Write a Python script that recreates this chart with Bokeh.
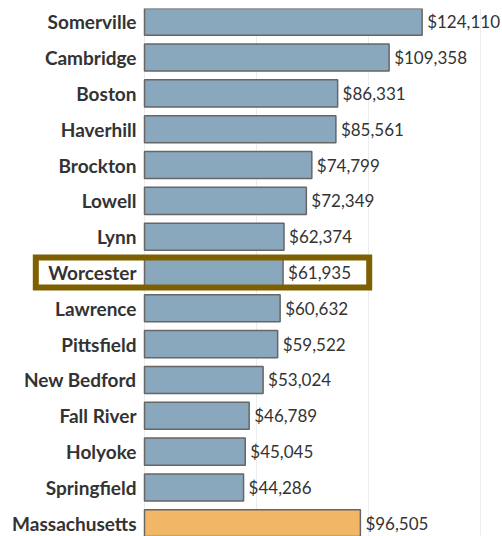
from bokeh.plotting import figure
from bokeh.models import ColumnDataSource, FactorRange, Range1d, FixedTicker
from bokeh.core.properties import value
from bokeh.embed import file_html
from bokeh.resources import INLINE

cities = ["Somerville", "Cambridge", "Boston", "Haverhill", "Brockton", "Lowell", "Lynn",
          "Worcester", "Lawrence", "Pittsfield", "New Bedford", "Fall River", "Holyoke",
          "Springfield", "Massachusetts"]
incomes = [124110, 109358, 86331, 85561, 74799, 72349, 62374,
           61935, 60632, 59522, 53024, 46789, 45045, 44286, 96505]
highlight = "Worcester"
grid_ticks = [0, 50000, 100000, 150000]

BLUE = "#8aa8bd"
ORANGE = "#f2b766"
colors = [ORANGE if c == "Massachusetts" else BLUE for c in cities]
labels = ["${:,}".format(v) for v in incomes]

W, H = 502, 536
px_per = 0.002237
zero_px = 144
x_start = -zero_px / px_per
x_end = (W - zero_px) / px_per

src = ColumnDataSource(dict(city=cities, income=incomes, color=colors, label=labels,
                            zero=[0] * len(cities)))

p = figure(width=W, height=H, output_backend="svg", toolbar_location=None,
           y_range=FactorRange(*reversed(cities), range_padding=-0.13,
                               range_padding_units="absolute"),
           x_range=Range1d(x_start, x_end),
           min_border=0, min_border_top=8, outline_line_color=None)
p.xaxis.visible = False
p.yaxis.visible = False
p.ygrid.grid_line_color = None
p.xgrid.ticker = FixedTicker(ticks=grid_ticks)
p.xgrid.grid_line_color = "#ececec"
p.xgrid.grid_line_width = 1

p.hbar(y="city", left=0, right="income", height=0.755, source=src,
       fill_color="color", line_color="#666666", line_width=1.5)

p.text(x="zero", y="city", text="city", source=src, x_offset=-8,
       text_align="right", text_baseline="middle", text_font=value("Lato"),
       text_font_style="bold", text_font_size="19px", text_color="#333333")
p.text(x="income", y="city", text="label", source=src, x_offset=5,
       text_align="left", text_baseline="middle", text_font=value("Lato"),
       text_font_size="17px", text_color="#333333")

# highlight frame around the Worcester row
box_left = x_start + 35.3 / px_per
box_right = 100450
p.rect(x=[(box_left + box_right) / 2], y=[highlight], width=[box_right - box_left],
       height=0.838, fill_color=None, line_color="#7f6000", line_width=6,
       line_join="miter")

open("out.html", "w").write(file_html(p, INLINE))
